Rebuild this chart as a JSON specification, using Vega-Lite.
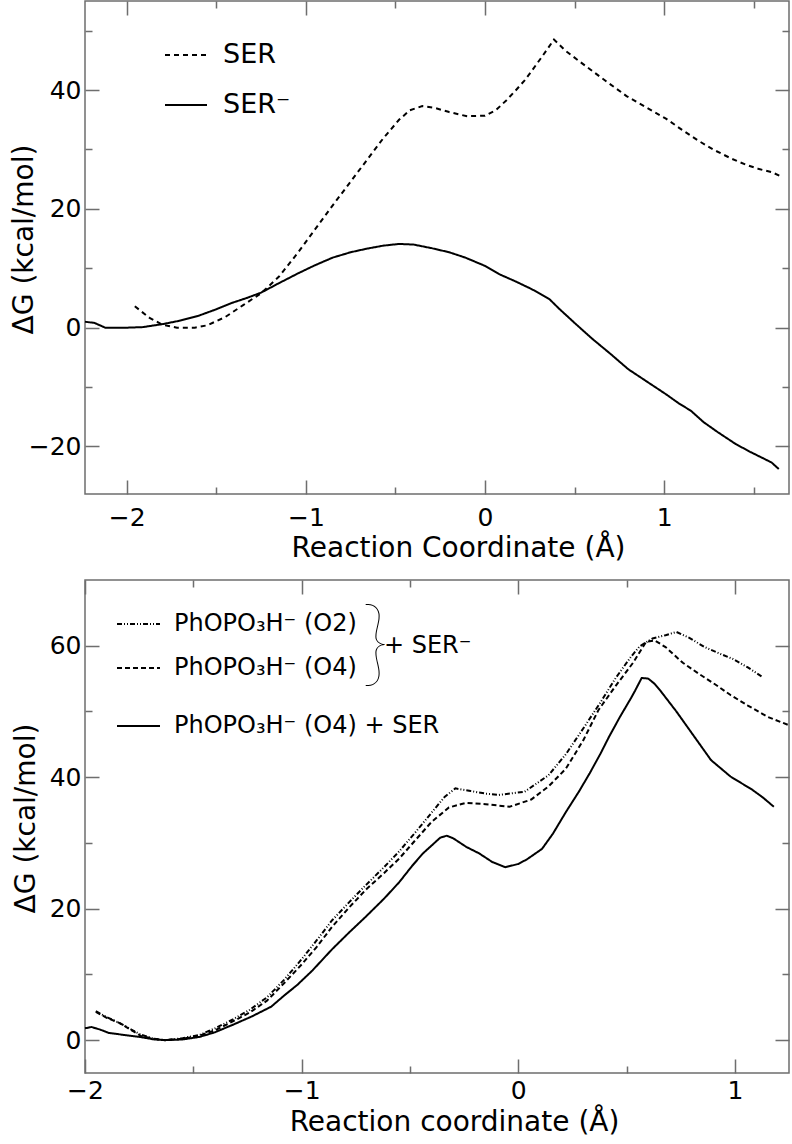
{
  "$schema": "https://vega.github.io/schema/vega-lite/v6.json",
  "padding": {"left": 9, "top": 0, "right": 0, "bottom": 0},
  "background": "white",
  "spacing": 16,
  "config": {
    "font": "DejaVu Sans",
    "view": {"stroke": "#6e6e6e", "strokeWidth": 1.5},
    "axis": {
      "domain": false, "ticks": false, "grid": true, "gridColor": "#6e6e6e", "gridWidth": 1.5, "gridOpacity": 1,
      "labelFontSize": 25, "titleFontSize": 28, "titleFontWeight": "normal",
      "labelColor": "black", "titleColor": "black", "labelFlush": false, "labelOverlap": false,
      "labelFont": "DejaVu Sans", "titleFont": "DejaVu Sans", "format": "d"
    },
    "legend": {
      "orient": "none", "symbolType": "stroke", "symbolStrokeWidth": 2, "symbolStrokeColor": "black",
      "title": null, "padding": 0, "labelFont": "DejaVu Sans", "labelColor": "black", "labelLimit": 0
    },
    "line": {"color": "black", "strokeWidth": 2}
  },
  "vconcat": [
    {
      "width": 704,
      "height": 493,
      "data": {"values": [
        {"series": "SER", "x": -1.955, "y": 3.6}, {"series": "SER", "x": -1.87, "y": 1.6}, {"series": "SER", "x": -1.8, "y": 0.5},
        {"series": "SER", "x": -1.72, "y": 0.0}, {"series": "SER", "x": -1.62, "y": 0.0}, {"series": "SER", "x": -1.55, "y": 0.4},
        {"series": "SER", "x": -1.45, "y": 1.8}, {"series": "SER", "x": -1.35, "y": 3.8}, {"series": "SER", "x": -1.25, "y": 5.8},
        {"series": "SER", "x": -1.15, "y": 8.6}, {"series": "SER", "x": -1.04, "y": 12.8}, {"series": "SER", "x": -0.95, "y": 16.5},
        {"series": "SER", "x": -0.85, "y": 20.6}, {"series": "SER", "x": -0.75, "y": 24.6}, {"series": "SER", "x": -0.66, "y": 28.2},
        {"series": "SER", "x": -0.57, "y": 31.8}, {"series": "SER", "x": -0.48, "y": 35.0}, {"series": "SER", "x": -0.42, "y": 36.6},
        {"series": "SER", "x": -0.35, "y": 37.3}, {"series": "SER", "x": -0.28, "y": 37.0}, {"series": "SER", "x": -0.2, "y": 36.3},
        {"series": "SER", "x": -0.1, "y": 35.6}, {"series": "SER", "x": 0.0, "y": 35.7}, {"series": "SER", "x": 0.06, "y": 36.6},
        {"series": "SER", "x": 0.12, "y": 38.3}, {"series": "SER", "x": 0.17, "y": 39.9}, {"series": "SER", "x": 0.22, "y": 41.6},
        {"series": "SER", "x": 0.26, "y": 43.2}, {"series": "SER", "x": 0.32, "y": 45.7}, {"series": "SER", "x": 0.385, "y": 48.5},
        {"series": "SER", "x": 0.45, "y": 46.6}, {"series": "SER", "x": 0.56, "y": 44.1}, {"series": "SER", "x": 0.68, "y": 41.4},
        {"series": "SER", "x": 0.79, "y": 39.0}, {"series": "SER", "x": 0.9, "y": 37.1}, {"series": "SER", "x": 1.01, "y": 35.2},
        {"series": "SER", "x": 1.1, "y": 33.3}, {"series": "SER", "x": 1.19, "y": 31.5}, {"series": "SER", "x": 1.28, "y": 29.9},
        {"series": "SER", "x": 1.38, "y": 28.4}, {"series": "SER", "x": 1.46, "y": 27.4}, {"series": "SER", "x": 1.53, "y": 26.7},
        {"series": "SER", "x": 1.6, "y": 26.2}, {"series": "SER", "x": 1.65, "y": 25.5},
        {"series": "SER⁻", "x": -2.233, "y": 1.0}, {"series": "SER⁻", "x": -2.18, "y": 0.8}, {"series": "SER⁻", "x": -2.12, "y": 0.0},
        {"series": "SER⁻", "x": -2.0, "y": 0.0}, {"series": "SER⁻", "x": -1.91, "y": 0.1}, {"series": "SER⁻", "x": -1.8, "y": 0.6},
        {"series": "SER⁻", "x": -1.7, "y": 1.2}, {"series": "SER⁻", "x": -1.6, "y": 2.0}, {"series": "SER⁻", "x": -1.5, "y": 3.1},
        {"series": "SER⁻", "x": -1.41, "y": 4.2}, {"series": "SER⁻", "x": -1.33, "y": 5.0}, {"series": "SER⁻", "x": -1.25, "y": 5.9},
        {"series": "SER⁻", "x": -1.15, "y": 7.5}, {"series": "SER⁻", "x": -1.04, "y": 9.2}, {"series": "SER⁻", "x": -0.95, "y": 10.5},
        {"series": "SER⁻", "x": -0.85, "y": 11.8}, {"series": "SER⁻", "x": -0.75, "y": 12.7}, {"series": "SER⁻", "x": -0.66, "y": 13.3},
        {"series": "SER⁻", "x": -0.57, "y": 13.8}, {"series": "SER⁻", "x": -0.48, "y": 14.1}, {"series": "SER⁻", "x": -0.4, "y": 14.0},
        {"series": "SER⁻", "x": -0.3, "y": 13.4}, {"series": "SER⁻", "x": -0.2, "y": 12.7}, {"series": "SER⁻", "x": -0.11, "y": 11.8},
        {"series": "SER⁻", "x": 0.0, "y": 10.4}, {"series": "SER⁻", "x": 0.08, "y": 9.0}, {"series": "SER⁻", "x": 0.17, "y": 7.8},
        {"series": "SER⁻", "x": 0.26, "y": 6.5}, {"series": "SER⁻", "x": 0.32, "y": 5.5}, {"series": "SER⁻", "x": 0.36, "y": 4.8},
        {"series": "SER⁻", "x": 0.41, "y": 3.3}, {"series": "SER⁻", "x": 0.5, "y": 0.8}, {"series": "SER⁻", "x": 0.6, "y": -1.9},
        {"series": "SER⁻", "x": 0.7, "y": -4.4}, {"series": "SER⁻", "x": 0.8, "y": -7.0}, {"series": "SER⁻", "x": 0.9, "y": -9.0},
        {"series": "SER⁻", "x": 1.01, "y": -11.2}, {"series": "SER⁻", "x": 1.08, "y": -12.7}, {"series": "SER⁻", "x": 1.15, "y": -14.0},
        {"series": "SER⁻", "x": 1.22, "y": -15.9}, {"series": "SER⁻", "x": 1.3, "y": -17.6}, {"series": "SER⁻", "x": 1.4, "y": -19.6},
        {"series": "SER⁻", "x": 1.48, "y": -20.9}, {"series": "SER⁻", "x": 1.56, "y": -22.1}, {"series": "SER⁻", "x": 1.6, "y": -22.7},
        {"series": "SER⁻", "x": 1.64, "y": -23.8}
      ]},
      "layer": [
        {
          "transform": [{"filter": "datum.series === 'SER'"}],
          "mark": {"type": "line", "strokeWidth": 2},
          "encoding": {
            "x": {"field": "x", "type": "quantitative",
              "scale": {"domain": [-2.233, 1.697], "nice": false, "zero": false},
              "axis": {"orient": "bottom", "values": [-2, -1.5, -1, -0.5, 0, 0.5, 1, 1.5],
                "gridDash": {"condition": {"test": "datum.value % 1 !== 0", "value": [7, 479, 7, 0]}, "value": [14, 465, 14, 0]},
                "labelExpr": "datum.value % 1 === 0 ? datum.label : ''", "labelPadding": 11,
                "title": "Reaction Coordinate (Å)", "titleX": 373, "titleY": 62, "titleBaseline": "alphabetic"}},
            "y": {"field": "y", "type": "quantitative",
              "scale": {"domain": [-28, 55], "nice": false, "zero": false},
              "axis": {"orient": "left", "values": [-20, -10, 0, 10, 20, 30, 40, 50],
                "gridDash": {"condition": {"test": "datum.value % 20 !== 0", "value": [7, 690, 7, 0]}, "value": [14, 676, 14, 0]},
                "labelExpr": "datum.value % 20 === 0 ? datum.label : ''", "labelPadding": 4,
                "title": "ΔG (kcal/mol)", "titleX": -53, "titleY": 238, "titleBaseline": "alphabetic", "titleAngle": -90}},
            "strokeDash": {"field": "series", "type": "nominal",
              "scale": {"domain": ["SER"], "range": [[5, 4]]},
              "legend": {"legendX": 79, "legendY": 32, "symbolSize": 1764, "labelFontSize": 27, "labelOffset": 15}}
          }
        },
        {
          "transform": [{"filter": "datum.series === 'SER⁻'"}],
          "mark": {"type": "line", "strokeWidth": 2},
          "encoding": {
            "x": {"field": "x", "type": "quantitative"},
            "y": {"field": "y", "type": "quantitative"},
            "strokeDash": {"field": "series", "type": "nominal",
              "scale": {"domain": ["SER⁻"], "range": [[1, 0]]},
              "legend": {"legendX": 79, "legendY": 82, "symbolSize": 1764, "labelFontSize": 27, "labelOffset": 15}}
          }
        }
      ],
      "resolve": {"scale": {"strokeDash": "independent"}}
    },
    {
      "width": 704,
      "height": 493,
      "data": {"values": [
        {"series": "PhOPO₃H⁻  (O2)", "x": -1.95, "y": 4.4}, {"series": "PhOPO₃H⁻  (O2)", "x": -1.9, "y": 3.5}, {"series": "PhOPO₃H⁻  (O2)", "x": -1.84, "y": 2.6},
        {"series": "PhOPO₃H⁻  (O2)", "x": -1.78, "y": 1.5}, {"series": "PhOPO₃H⁻  (O2)", "x": -1.74, "y": 0.8}, {"series": "PhOPO₃H⁻  (O2)", "x": -1.68, "y": 0.2},
        {"series": "PhOPO₃H⁻  (O2)", "x": -1.63, "y": 0.0}, {"series": "PhOPO₃H⁻  (O2)", "x": -1.55, "y": 0.3}, {"series": "PhOPO₃H⁻  (O2)", "x": -1.47, "y": 0.8},
        {"series": "PhOPO₃H⁻  (O2)", "x": -1.4, "y": 1.8}, {"series": "PhOPO₃H⁻  (O2)", "x": -1.32, "y": 3.1}, {"series": "PhOPO₃H⁻  (O2)", "x": -1.24, "y": 4.6},
        {"series": "PhOPO₃H⁻  (O2)", "x": -1.16, "y": 6.5}, {"series": "PhOPO₃H⁻  (O2)", "x": -1.08, "y": 9.2}, {"series": "PhOPO₃H⁻  (O2)", "x": -1.0, "y": 12.3},
        {"series": "PhOPO₃H⁻  (O2)", "x": -0.93, "y": 15.2}, {"series": "PhOPO₃H⁻  (O2)", "x": -0.86, "y": 18.2}, {"series": "PhOPO₃H⁻  (O2)", "x": -0.78, "y": 21.0},
        {"series": "PhOPO₃H⁻  (O2)", "x": -0.7, "y": 23.7}, {"series": "PhOPO₃H⁻  (O2)", "x": -0.62, "y": 26.3}, {"series": "PhOPO₃H⁻  (O2)", "x": -0.55, "y": 28.7},
        {"series": "PhOPO₃H⁻  (O2)", "x": -0.47, "y": 31.8}, {"series": "PhOPO₃H⁻  (O2)", "x": -0.4, "y": 34.6}, {"series": "PhOPO₃H⁻  (O2)", "x": -0.34, "y": 37.0},
        {"series": "PhOPO₃H⁻  (O2)", "x": -0.29, "y": 38.3}, {"series": "PhOPO₃H⁻  (O2)", "x": -0.22, "y": 37.9}, {"series": "PhOPO₃H⁻  (O2)", "x": -0.15, "y": 37.5},
        {"series": "PhOPO₃H⁻  (O2)", "x": -0.09, "y": 37.3}, {"series": "PhOPO₃H⁻  (O2)", "x": 0.03, "y": 37.8}, {"series": "PhOPO₃H⁻  (O2)", "x": 0.14, "y": 40.3},
        {"series": "PhOPO₃H⁻  (O2)", "x": 0.22, "y": 43.5}, {"series": "PhOPO₃H⁻  (O2)", "x": 0.3, "y": 47.4}, {"series": "PhOPO₃H⁻  (O2)", "x": 0.38, "y": 51.4},
        {"series": "PhOPO₃H⁻  (O2)", "x": 0.45, "y": 55.1}, {"series": "PhOPO₃H⁻  (O2)", "x": 0.52, "y": 58.3}, {"series": "PhOPO₃H⁻  (O2)", "x": 0.56, "y": 59.9},
        {"series": "PhOPO₃H⁻  (O2)", "x": 0.62, "y": 61.1}, {"series": "PhOPO₃H⁻  (O2)", "x": 0.68, "y": 61.6}, {"series": "PhOPO₃H⁻  (O2)", "x": 0.73, "y": 62.1},
        {"series": "PhOPO₃H⁻  (O2)", "x": 0.79, "y": 61.2}, {"series": "PhOPO₃H⁻  (O2)", "x": 0.86, "y": 59.8}, {"series": "PhOPO₃H⁻  (O2)", "x": 0.93, "y": 58.8},
        {"series": "PhOPO₃H⁻  (O2)", "x": 0.99, "y": 58.0}, {"series": "PhOPO₃H⁻  (O2)", "x": 1.06, "y": 56.7}, {"series": "PhOPO₃H⁻  (O2)", "x": 1.13, "y": 55.2},
        {"series": "PhOPO₃H⁻  (O4)", "x": -1.95, "y": 4.3}, {"series": "PhOPO₃H⁻  (O4)", "x": -1.9, "y": 3.4}, {"series": "PhOPO₃H⁻  (O4)", "x": -1.84, "y": 2.6},
        {"series": "PhOPO₃H⁻  (O4)", "x": -1.78, "y": 1.4}, {"series": "PhOPO₃H⁻  (O4)", "x": -1.74, "y": 0.6}, {"series": "PhOPO₃H⁻  (O4)", "x": -1.68, "y": 0.2},
        {"series": "PhOPO₃H⁻  (O4)", "x": -1.63, "y": 0.0}, {"series": "PhOPO₃H⁻  (O4)", "x": -1.55, "y": 0.2}, {"series": "PhOPO₃H⁻  (O4)", "x": -1.47, "y": 0.7},
        {"series": "PhOPO₃H⁻  (O4)", "x": -1.4, "y": 1.5}, {"series": "PhOPO₃H⁻  (O4)", "x": -1.32, "y": 2.8}, {"series": "PhOPO₃H⁻  (O4)", "x": -1.24, "y": 4.2},
        {"series": "PhOPO₃H⁻  (O4)", "x": -1.16, "y": 6.0}, {"series": "PhOPO₃H⁻  (O4)", "x": -1.08, "y": 8.7}, {"series": "PhOPO₃H⁻  (O4)", "x": -1.0, "y": 11.5},
        {"series": "PhOPO₃H⁻  (O4)", "x": -0.93, "y": 14.2}, {"series": "PhOPO₃H⁻  (O4)", "x": -0.86, "y": 17.2}, {"series": "PhOPO₃H⁻  (O4)", "x": -0.78, "y": 20.2},
        {"series": "PhOPO₃H⁻  (O4)", "x": -0.7, "y": 23.0}, {"series": "PhOPO₃H⁻  (O4)", "x": -0.62, "y": 25.4}, {"series": "PhOPO₃H⁻  (O4)", "x": -0.55, "y": 27.6},
        {"series": "PhOPO₃H⁻  (O4)", "x": -0.47, "y": 30.6}, {"series": "PhOPO₃H⁻  (O4)", "x": -0.4, "y": 33.2}, {"series": "PhOPO₃H⁻  (O4)", "x": -0.32, "y": 35.4},
        {"series": "PhOPO₃H⁻  (O4)", "x": -0.24, "y": 36.1}, {"series": "PhOPO₃H⁻  (O4)", "x": -0.15, "y": 35.9}, {"series": "PhOPO₃H⁻  (O4)", "x": -0.04, "y": 35.5},
        {"series": "PhOPO₃H⁻  (O4)", "x": 0.06, "y": 36.6}, {"series": "PhOPO₃H⁻  (O4)", "x": 0.14, "y": 38.6}, {"series": "PhOPO₃H⁻  (O4)", "x": 0.22, "y": 41.3},
        {"series": "PhOPO₃H⁻  (O4)", "x": 0.3, "y": 45.6}, {"series": "PhOPO₃H⁻  (O4)", "x": 0.37, "y": 50.2}, {"series": "PhOPO₃H⁻  (O4)", "x": 0.45, "y": 53.9},
        {"series": "PhOPO₃H⁻  (O4)", "x": 0.53, "y": 57.4}, {"series": "PhOPO₃H⁻  (O4)", "x": 0.59, "y": 60.6}, {"series": "PhOPO₃H⁻  (O4)", "x": 0.63, "y": 60.8},
        {"series": "PhOPO₃H⁻  (O4)", "x": 0.68, "y": 59.8}, {"series": "PhOPO₃H⁻  (O4)", "x": 0.76, "y": 57.4}, {"series": "PhOPO₃H⁻  (O4)", "x": 0.84, "y": 55.6},
        {"series": "PhOPO₃H⁻  (O4)", "x": 0.91, "y": 54.1}, {"series": "PhOPO₃H⁻  (O4)", "x": 0.98, "y": 52.5}, {"series": "PhOPO₃H⁻  (O4)", "x": 1.06, "y": 50.9},
        {"series": "PhOPO₃H⁻  (O4)", "x": 1.15, "y": 49.2}, {"series": "PhOPO₃H⁻  (O4)", "x": 1.25, "y": 47.9},
        {"series": "PhOPO₃H⁻  (O4) + SER", "x": -2.0, "y": 1.8}, {"series": "PhOPO₃H⁻  (O4) + SER", "x": -1.97, "y": 2.0}, {"series": "PhOPO₃H⁻  (O4) + SER", "x": -1.93, "y": 1.6},
        {"series": "PhOPO₃H⁻  (O4) + SER", "x": -1.89, "y": 1.1}, {"series": "PhOPO₃H⁻  (O4) + SER", "x": -1.8, "y": 0.7}, {"series": "PhOPO₃H⁻  (O4) + SER", "x": -1.75, "y": 0.5},
        {"series": "PhOPO₃H⁻  (O4) + SER", "x": -1.68, "y": 0.1}, {"series": "PhOPO₃H⁻  (O4) + SER", "x": -1.63, "y": 0.0}, {"series": "PhOPO₃H⁻  (O4) + SER", "x": -1.55, "y": 0.1},
        {"series": "PhOPO₃H⁻  (O4) + SER", "x": -1.47, "y": 0.5}, {"series": "PhOPO₃H⁻  (O4) + SER", "x": -1.4, "y": 1.2}, {"series": "PhOPO₃H⁻  (O4) + SER", "x": -1.32, "y": 2.3},
        {"series": "PhOPO₃H⁻  (O4) + SER", "x": -1.23, "y": 3.6}, {"series": "PhOPO₃H⁻  (O4) + SER", "x": -1.14, "y": 5.1}, {"series": "PhOPO₃H⁻  (O4) + SER", "x": -1.08, "y": 6.8},
        {"series": "PhOPO₃H⁻  (O4) + SER", "x": -1.02, "y": 8.4}, {"series": "PhOPO₃H⁻  (O4) + SER", "x": -0.95, "y": 10.6}, {"series": "PhOPO₃H⁻  (O4) + SER", "x": -0.86, "y": 13.8},
        {"series": "PhOPO₃H⁻  (O4) + SER", "x": -0.78, "y": 16.4}, {"series": "PhOPO₃H⁻  (O4) + SER", "x": -0.7, "y": 18.9}, {"series": "PhOPO₃H⁻  (O4) + SER", "x": -0.62, "y": 21.5},
        {"series": "PhOPO₃H⁻  (O4) + SER", "x": -0.55, "y": 24.0}, {"series": "PhOPO₃H⁻  (O4) + SER", "x": -0.49, "y": 26.5}, {"series": "PhOPO₃H⁻  (O4) + SER", "x": -0.44, "y": 28.4},
        {"series": "PhOPO₃H⁻  (O4) + SER", "x": -0.4, "y": 29.6}, {"series": "PhOPO₃H⁻  (O4) + SER", "x": -0.36, "y": 30.8}, {"series": "PhOPO₃H⁻  (O4) + SER", "x": -0.33, "y": 31.1},
        {"series": "PhOPO₃H⁻  (O4) + SER", "x": -0.3, "y": 30.7}, {"series": "PhOPO₃H⁻  (O4) + SER", "x": -0.24, "y": 29.4}, {"series": "PhOPO₃H⁻  (O4) + SER", "x": -0.18, "y": 28.4},
        {"series": "PhOPO₃H⁻  (O4) + SER", "x": -0.12, "y": 27.1}, {"series": "PhOPO₃H⁻  (O4) + SER", "x": -0.06, "y": 26.3}, {"series": "PhOPO₃H⁻  (O4) + SER", "x": 0.0, "y": 26.8},
        {"series": "PhOPO₃H⁻  (O4) + SER", "x": 0.04, "y": 27.5}, {"series": "PhOPO₃H⁻  (O4) + SER", "x": 0.11, "y": 29.1}, {"series": "PhOPO₃H⁻  (O4) + SER", "x": 0.16, "y": 31.4},
        {"series": "PhOPO₃H⁻  (O4) + SER", "x": 0.22, "y": 34.7}, {"series": "PhOPO₃H⁻  (O4) + SER", "x": 0.28, "y": 37.8}, {"series": "PhOPO₃H⁻  (O4) + SER", "x": 0.33, "y": 40.6},
        {"series": "PhOPO₃H⁻  (O4) + SER", "x": 0.38, "y": 43.6}, {"series": "PhOPO₃H⁻  (O4) + SER", "x": 0.42, "y": 46.2}, {"series": "PhOPO₃H⁻  (O4) + SER", "x": 0.47, "y": 49.2},
        {"series": "PhOPO₃H⁻  (O4) + SER", "x": 0.52, "y": 52.0}, {"series": "PhOPO₃H⁻  (O4) + SER", "x": 0.54, "y": 53.2}, {"series": "PhOPO₃H⁻  (O4) + SER", "x": 0.57, "y": 55.1},
        {"series": "PhOPO₃H⁻  (O4) + SER", "x": 0.6, "y": 55.0}, {"series": "PhOPO₃H⁻  (O4) + SER", "x": 0.63, "y": 54.2}, {"series": "PhOPO₃H⁻  (O4) + SER", "x": 0.66, "y": 53.0},
        {"series": "PhOPO₃H⁻  (O4) + SER", "x": 0.73, "y": 50.0}, {"series": "PhOPO₃H⁻  (O4) + SER", "x": 0.81, "y": 46.3}, {"series": "PhOPO₃H⁻  (O4) + SER", "x": 0.89, "y": 42.6},
        {"series": "PhOPO₃H⁻  (O4) + SER", "x": 0.98, "y": 40.1}, {"series": "PhOPO₃H⁻  (O4) + SER", "x": 1.08, "y": 38.1}, {"series": "PhOPO₃H⁻  (O4) + SER", "x": 1.13, "y": 36.9},
        {"series": "PhOPO₃H⁻  (O4) + SER", "x": 1.18, "y": 35.5}
      ]},
      "layer": [
        {
          "transform": [{"filter": "datum.series !== 'PhOPO₃H⁻  (O4) + SER'"}],
          "mark": {"type": "line", "strokeWidth": 2},
          "encoding": {
            "x": {"field": "x", "type": "quantitative",
              "scale": {"domain": [-2, 1.25], "nice": false, "zero": false},
              "axis": {"orient": "bottom", "values": [-2, -1.5, -1, -0.5, 0, 0.5, 1],
                "gridDash": {"condition": {"test": "datum.value % 1 !== 0", "value": [7, 479, 7, 0]}, "value": [14, 465, 14, 0]},
                "labelExpr": "datum.value % 1 === 0 ? datum.label : ''", "labelPadding": 5,
                "title": "Reaction coordinate (Å)", "titleX": 369, "titleY": 57, "titleBaseline": "alphabetic"}},
            "y": {"field": "y", "type": "quantitative",
              "scale": {"domain": [-5, 70], "nice": false, "zero": false},
              "axis": {"orient": "left", "values": [0, 10, 20, 30, 40, 50, 60],
                "gridDash": {"condition": {"test": "datum.value % 20 !== 0", "value": [7, 690, 7, 0]}, "value": [14, 676, 14, 0]},
                "labelExpr": "datum.value % 20 === 0 ? datum.label : ''", "labelPadding": 4,
                "title": "ΔG (kcal/mol)", "titleX": -51, "titleY": 238, "titleBaseline": "alphabetic", "titleAngle": -90}},
            "strokeDash": {"field": "series", "type": "nominal",
              "scale": {"domain": ["PhOPO₃H⁻  (O2)", "PhOPO₃H⁻  (O4)"], "range": [[5, 2, 1, 2, 1, 2], [5, 3]]},
              "legend": {"legendX": 31, "legendY": 21.5, "symbolSize": 1849, "labelFontSize": 24, "labelOffset": 13, "rowPadding": 9}}
          }
        },
        {
          "transform": [{"filter": "datum.series === 'PhOPO₃H⁻  (O4) + SER'"}],
          "mark": {"type": "line", "strokeWidth": 2},
          "encoding": {
            "x": {"field": "x", "type": "quantitative"},
            "y": {"field": "y", "type": "quantitative"},
            "strokeDash": {"field": "series", "type": "nominal",
              "scale": {"domain": ["PhOPO₃H⁻  (O4) + SER"], "range": [[1, 0]]},
              "legend": {"legendX": 31, "legendY": 123.5, "symbolSize": 1849, "labelFontSize": 24, "labelOffset": 13}}
          }
        },
        {
          "data": {"values": [{}]},
          "mark": {"type": "text", "text": "}", "font": "Lato", "fontWeight": 100, "fontSize": 95, "align": "center", "baseline": "middle", "color": "black"},
          "encoding": {
            "x": {"datum": -0.66, "type": "quantitative"},
            "y": {"datum": 60.0, "type": "quantitative"}
          }
        },
        {
          "data": {"values": [{}]},
          "mark": {"type": "text", "text": "+ SER⁻", "font": "DejaVu Sans", "fontSize": 24, "align": "left", "baseline": "middle", "color": "black"},
          "encoding": {
            "x": {"datum": -0.62, "type": "quantitative"},
            "y": {"datum": 60.0, "type": "quantitative"}
          }
        }
      ],
      "resolve": {"scale": {"strokeDash": "independent"}}
    }
  ]
}
